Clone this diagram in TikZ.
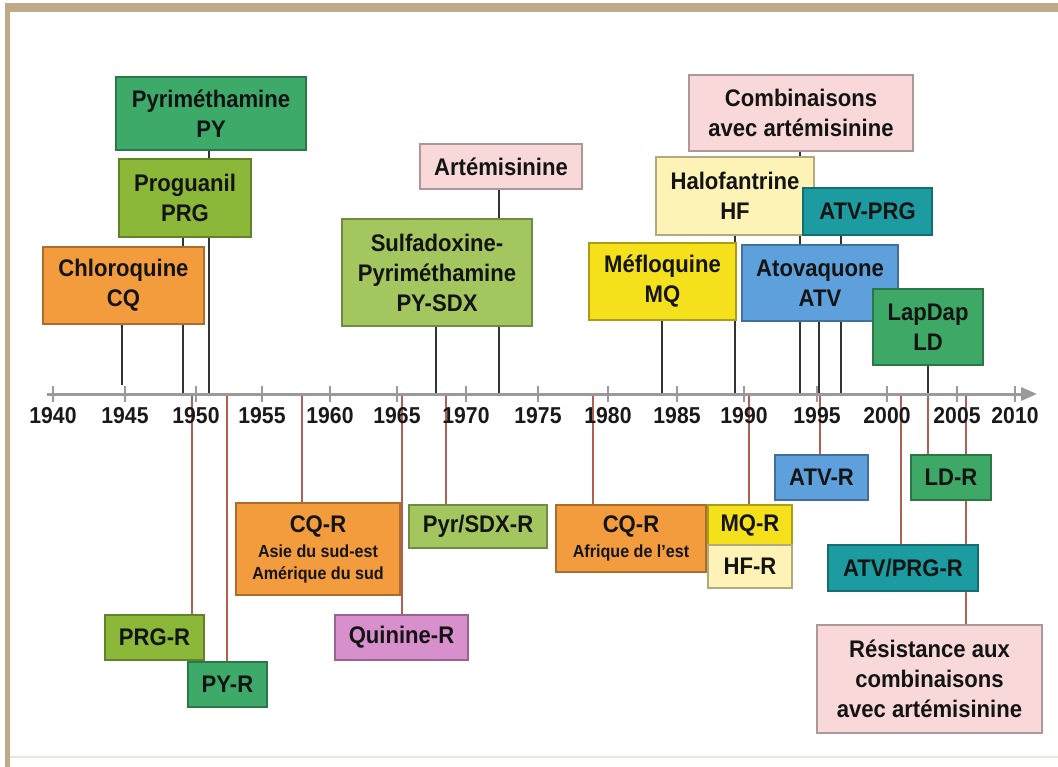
\documentclass[tikz,border=0pt]{standalone}
\usepackage{fontspec}
\setmainfont{Liberation Sans}[FakeStretch=0.92]
\usetikzlibrary{arrows.meta,backgrounds}
\definecolor{cPY}{HTML}{3DAA6A}
\definecolor{cPRG}{HTML}{8CB83A}
\definecolor{cCQ}{HTML}{F39C3E}
\definecolor{cSDX}{HTML}{A3C75E}
\definecolor{cPink}{HTML}{F8D8D8}
\definecolor{cHF}{HTML}{FDF3B6}
\definecolor{cTeal}{HTML}{1C9CA0}
\definecolor{cMQ}{HTML}{F5E01C}
\definecolor{cATV}{HTML}{5DA0DC}
\definecolor{cLD}{HTML}{3EA866}
\definecolor{cQui}{HTML}{D890CC}
\definecolor{cFrame}{HTML}{BFA987}
\definecolor{cRed}{HTML}{B06050}
\definecolor{cAxis}{HTML}{9A9A9A}
\begin{document}
\begin{tikzpicture}[x=1pt,y=-1pt,
  box/.style={rectangle, fill=#1, draw=#1!70!black, line width=1.2pt, inner sep=0pt,
    align=center, text=black!92, font=\bfseries\fontsize{24}{30}\selectfont},
  smallbox/.style={box=#1, font=\bfseries\fontsize{17.5}{22}\selectfont},
  up/.style={draw=black!80, line width=1.5pt},
  dn/.style={draw=cRed, line width=1.5pt},
  yr/.style={font=\bfseries\fontsize{23}{23}\selectfont, text=black!90, anchor=base},
  tick/.style={draw=cAxis, line width=2pt},
]
\useasboundingbox (0,0) rectangle (1058,767);

% axis
\draw[cAxis, line width=3pt, -{Triangle[length=16pt,width=13pt]}] (47,394) -- (1037,394);
\foreach \x/\t in {53/1940,125/1945,196/1950,262/1955,330/1960,397/1965,466/1970,538/1975,608/1980,677/1985,744/1990,817/1995,887/2000,957/2005,1015/2010}{
  \draw[tick] (\x,386) -- (\x,402);
  \node[yr] (y\t) at (\x,423) {\t};
}

% drug boxes (above)
\node[box=cPY, minimum width=190, minimum height=73] (PY) at (211,113.5) {Pyriméthamine\\PY};
\node[box=cPRG, minimum width=132, minimum height=78] (PRG) at (185,198) {Proguanil\\PRG};
\node[box=cCQ, minimum width=161, minimum height=77] (CQ) at (123.5,285.5) {Chloroquine\\CQ};
\node[box=cSDX, minimum width=190, minimum height=107] (SDX) at (437,272.5) {Sulfadoxine-\\Pyriméthamine\\PY-SDX};
\node[box=cPink, minimum width=162, minimum height=45] (ART) at (501,166.5) {Artémisinine};
\node[box=cPink, minimum width=224, minimum height=76] (COMB) at (801,113) {Combinaisons\\avec artémisinine};
\node[box=cHF, minimum width=158, minimum height=78] (HF) at (735,196) {Halofantrine\\HF};
\node[box=cTeal, minimum width=129, minimum height=47] (ATVPRG) at (867.5,211.5) {ATV-PRG};
\node[box=cMQ, minimum width=147, minimum height=77] (MQ) at (662.5,281.5) {Méfloquine\\MQ};
\node[box=cATV, minimum width=156, minimum height=76] (ATV) at (820,283) {Atovaquone\\ATV};
\node[box=cLD, minimum width=110, minimum height=76] (LD) at (928,327) {LapDap\\LD};

% resistance boxes (below)
\node[box=cATV, minimum width=93, minimum height=45] (ATVR) at (821.5,477.5) {ATV-R};
\node[box=cLD, minimum width=80, minimum height=45] (LDR) at (951,477.5) {LD-R};
\node[smallbox=cCQ, minimum width=150, minimum height=67] (CQRAF) at (631,538.5) {\fontsize{24}{24}\selectfont CQ-R\\[3pt]Afrique de l'est};
\node[box=cMQ, minimum width=84, minimum height=40] (MQR) at (750,525) {MQ-R};
\node[box=cHF, minimum width=84, minimum height=43] (HFR) at (750,566.5) {HF-R};
\node[box=cTeal, minimum width=150, minimum height=46] (ATVPRGR) at (903,568) {ATV/PRG-R};
\node[box=cPink, minimum width=225, minimum height=108] (RES) at (929.5,679) {Résistance aux\\combinaisons\\avec artémisinine};
\node[smallbox=cCQ, minimum width=164, minimum height=92] (CQRAS) at (318,549) {\fontsize{24}{24}\selectfont CQ-R\\[3pt]Asie du sud-est\\Amérique du sud};
\node[box=cSDX, minimum width=138, minimum height=43] (SDXR) at (478,526.5) {Pyr/SDX-R};
\node[box=cPRG, minimum width=99, minimum height=45] (PRGR) at (154.5,637.5) {PRG-R};
\node[box=cPY, minimum width=79, minimum height=45] (PYR) at (227.5,684.5) {PY-R};
\node[box=cQui, minimum width=133, minimum height=45] (QUIR) at (401.5,637.5) {Quinine-R};

% feet of the connectors on the axis
\coordinate (tCQ) at (122,385);
\coordinate (tPRG) at (183,394);
\coordinate (tPY) at (209,394);
\coordinate (tSDX) at (436,394);
\coordinate (tART) at (499,394);
\coordinate (tMQ) at (662,394);
\coordinate (tHF) at (735,394);
\coordinate (tCOMB) at (800,394);
\coordinate (tATV) at (819,394);
\coordinate (tATVPRG) at (841,394);
\coordinate (tLD) at (928,394);
\coordinate (bPRGR) at (192,394);
\coordinate (bPYR) at (227,394);
\coordinate (bCQRAS) at (302,394);
\coordinate (bQUIR) at (402,394);
\coordinate (bSDXR) at (446,394);
\coordinate (bCQRAF) at (593,394);
\coordinate (bMQR) at (749,394);
\coordinate (bATVR) at (820,394);
\coordinate (bATVPRGR) at (901,394);
\coordinate (bLDR) at (928,394);
\coordinate (bRES) at (966,394);

\begin{scope}[on background layer]
  \fill[white] (0,0) rectangle (1058,767);
  \fill[cFrame] (5,3) rectangle (1058,12);
  \fill[cFrame] (5,3) rectangle (10,767);
  \fill[cFrame!30] (10,756) rectangle (1058,758);
  \foreach \n in {CQ,PRG,PY,SDX,ART,MQ,HF,COMB,ATV,ATVPRG,LD}{
    \draw[up] (t\n |- \n.south) -- (t\n);
  }
  \foreach \n in {PRGR,PYR,CQRAS,QUIR,SDXR,CQRAF,MQR,ATVR,ATVPRGR,LDR,RES}{
    \draw[dn] (b\n) -- (b\n |- \n.north);
  }
\end{scope}
\end{tikzpicture}
\end{document}
